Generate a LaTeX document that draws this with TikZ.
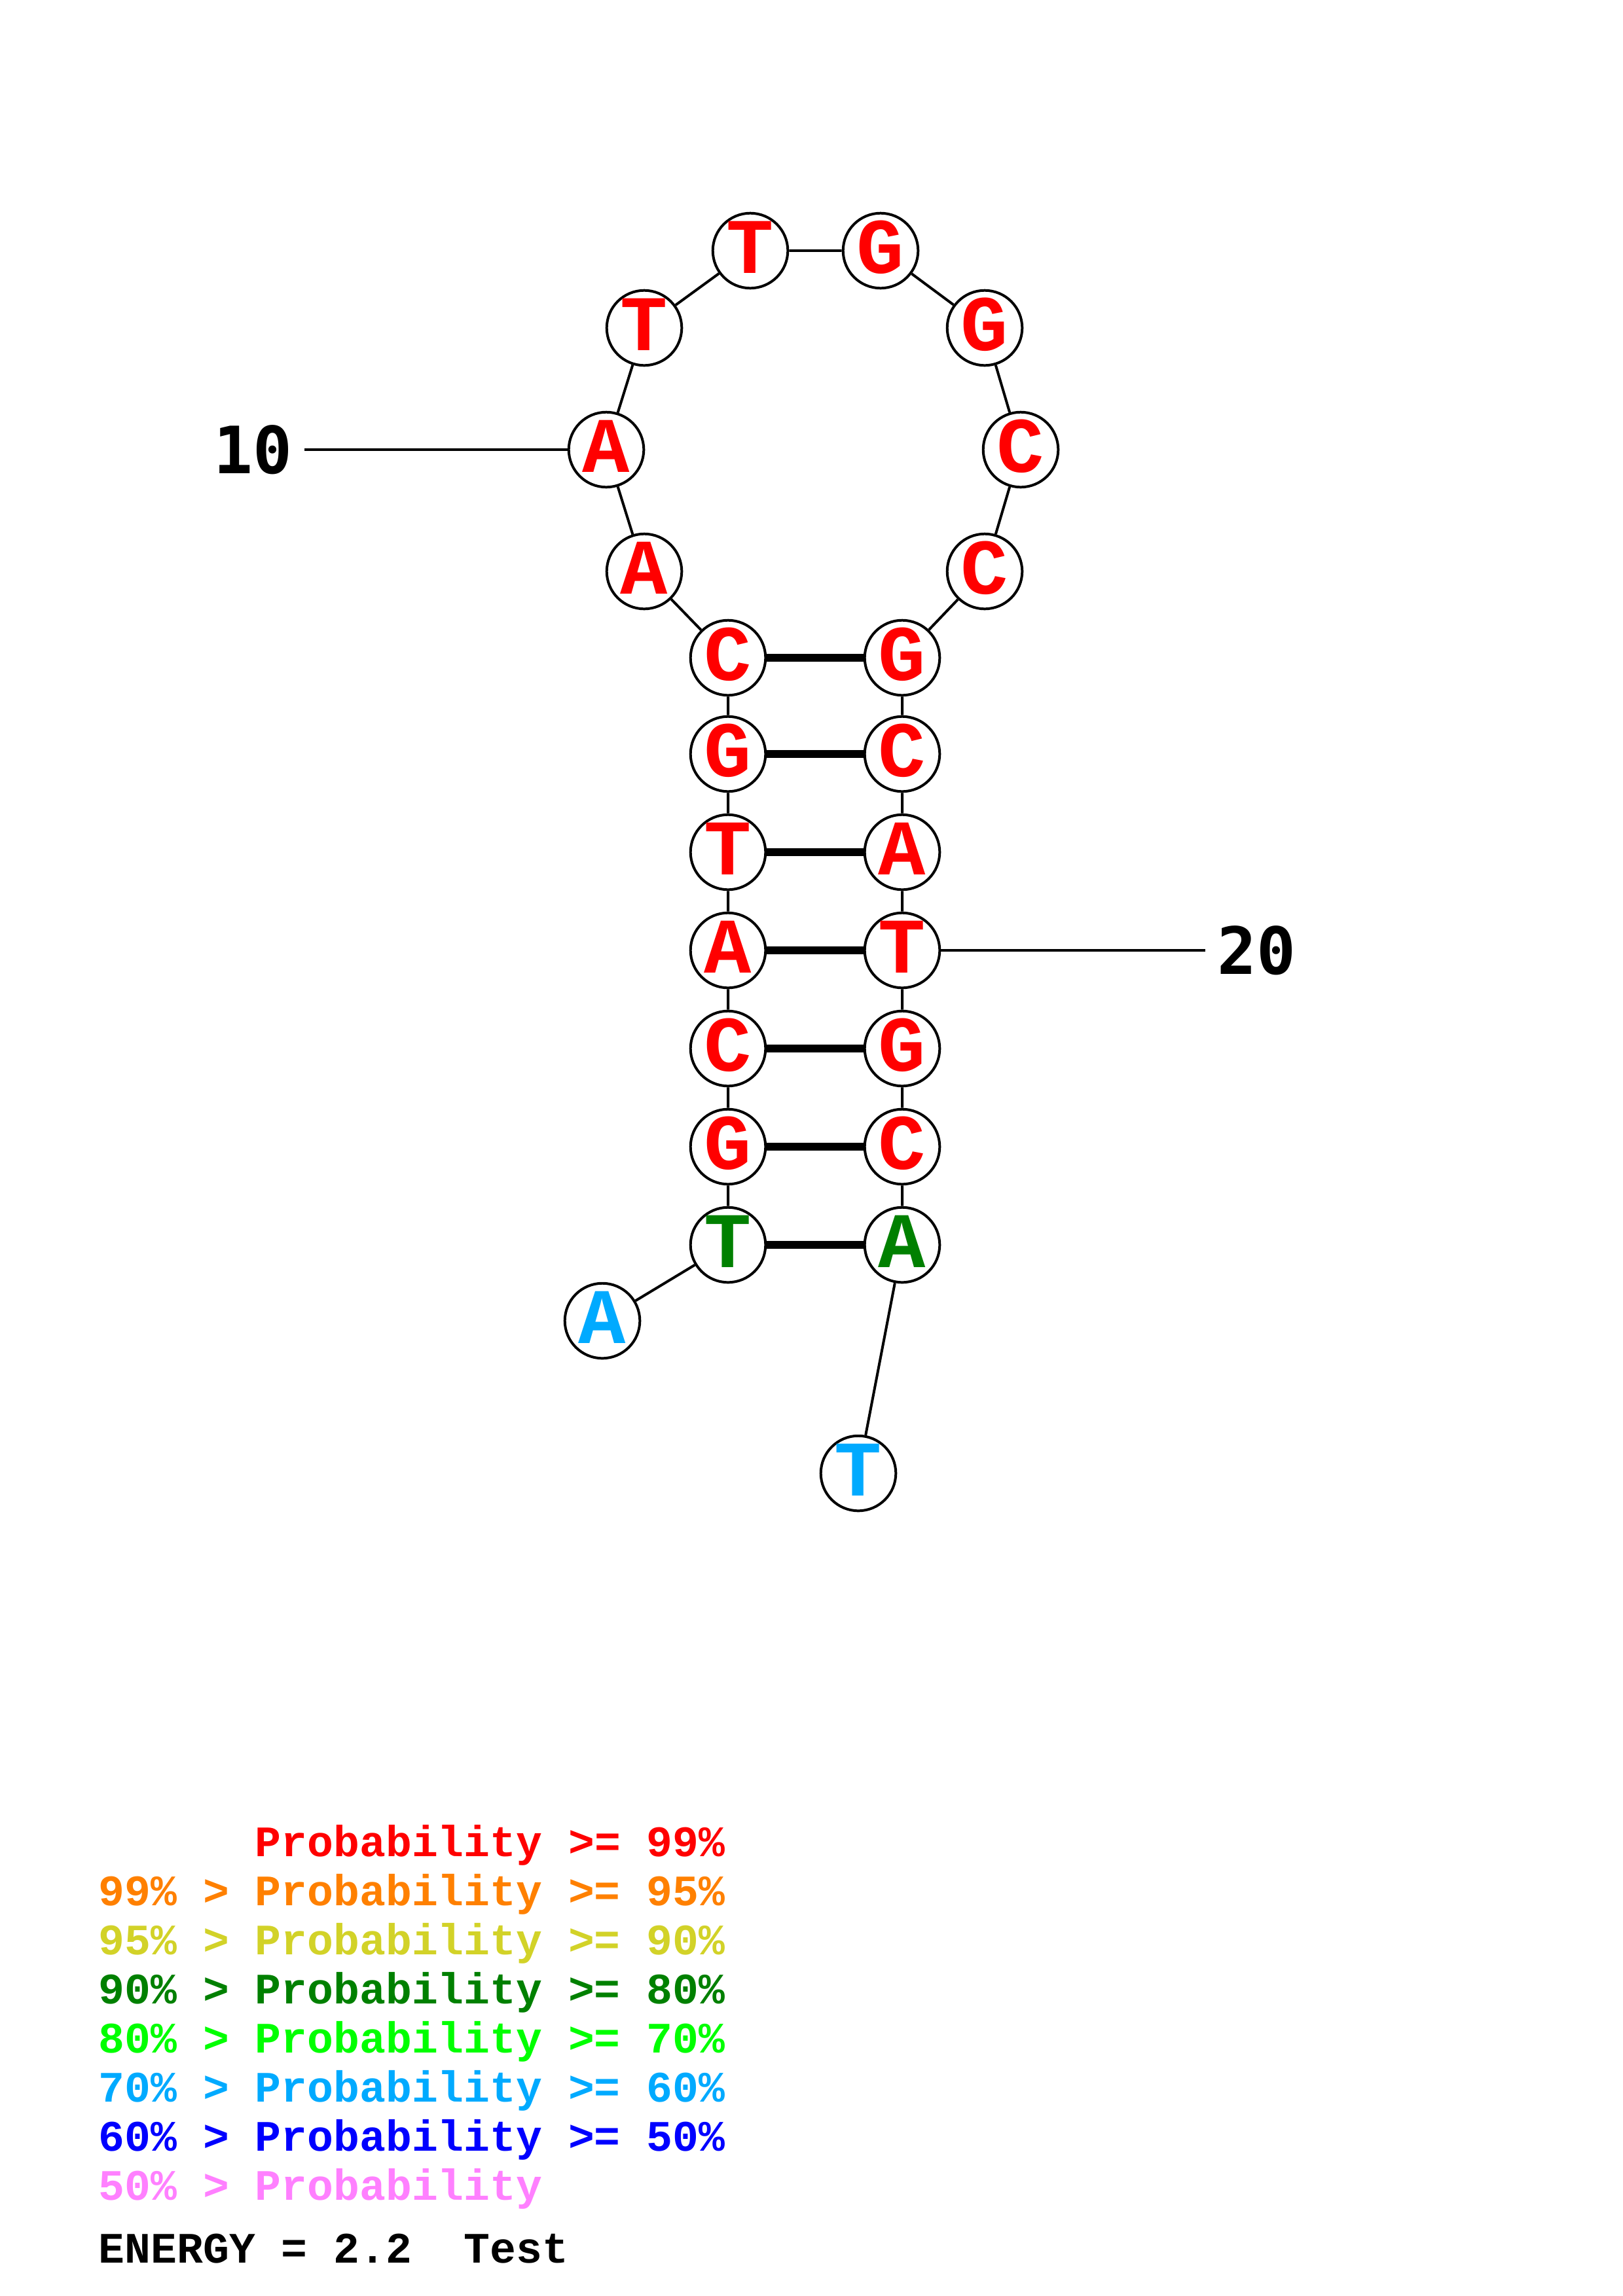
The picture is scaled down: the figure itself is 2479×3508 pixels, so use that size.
\documentclass[tikz,border=0pt]{standalone}
\usepackage{fontspec}
\setmainfont{Liberation Mono}
\newfontfamily\numfont{DejaVu Sans Mono}
\usepackage{tikz}

\begin{document}
\begin{tikzpicture}[x=0.0846667mm, y=-0.0846667mm,
    nuc/.style={circle, draw=black, line width=0.96pt, fill=white, minimum size=9.7mm, inner sep=0pt,
        font=\bfseries\fontsize{29}{29}\selectfont, text height=16.5pt, text depth=0pt},
    link/.style={line width=0.96pt},
    pair/.style={line width=3.1pt},
    numlabel/.style={font=\numfont\bfseries\fontsize{24}{24}\selectfont, inner sep=1.5mm},
    legend/.style={anchor=base west, inner sep=0pt, font=\bfseries\fontsize{16}{16}\selectfont}]
    % 定义颜色
    \definecolor{pred}{RGB}{255, 0, 0}
    \definecolor{porange}{RGB}{255, 128, 0}
    \definecolor{pyellow}{RGB}{210, 210, 40}
    \definecolor{pgreen}{RGB}{0, 128, 0}
    \definecolor{plime}{RGB}{0, 255, 0}
    \definecolor{psky}{RGB}{0, 170, 255}
    \definecolor{pblue}{RGB}{0, 0, 255}
    \definecolor{ppink}{RGB}{255, 128, 255}

    \useasboundingbox (0,0) rectangle (2479,3508);

    % 左链 (5')
    \node[nuc, text=psky] (n1) at (920, 2018) {A};
    \node[nuc, text=pgreen] (n2) at (1112, 1902) {T};
    \node[nuc, text=pred] (n3) at (1112, 1752) {G};
    \node[nuc, text=pred] (n4) at (1112, 1602) {C};
    \node[nuc, text=pred] (n5) at (1112, 1452) {A};
    \node[nuc, text=pred] (n6) at (1112, 1302) {T};
    \node[nuc, text=pred] (n7) at (1112, 1152) {G};
    \node[nuc, text=pred] (n8) at (1112, 1005) {C};

    % 发夹环
    \node[nuc, text=pred] (n9) at (984, 873) {A};
    \node[nuc, text=pred] (n10) at (926, 687) {A};
    \node[nuc, text=pred] (n11) at (984, 501) {T};
    \node[nuc, text=pred] (n12) at (1146, 383) {T};
    \node[nuc, text=pred] (n13) at (1345, 383) {G};
    \node[nuc, text=pred] (n14) at (1504, 501) {G};
    \node[nuc, text=pred] (n15) at (1559, 687) {C};
    \node[nuc, text=pred] (n16) at (1504, 873) {C};

    % 右链 (3')
    \node[nuc, text=pred] (n17) at (1378, 1005) {G};
    \node[nuc, text=pred] (n18) at (1378, 1152) {C};
    \node[nuc, text=pred] (n19) at (1378, 1302) {A};
    \node[nuc, text=pred] (n20) at (1378, 1452) {T};
    \node[nuc, text=pred] (n21) at (1378, 1602) {G};
    \node[nuc, text=pred] (n22) at (1378, 1752) {C};
    \node[nuc, text=pgreen] (n23) at (1378, 1902) {A};
    \node[nuc, text=psky] (n24) at (1311, 2251) {T};

    % 骨架连线
    \draw[link] (n1) -- (n2) -- (n3) -- (n4) -- (n5) -- (n6) -- (n7) -- (n8) -- (n9) -- (n10) -- (n11) -- (n12);
    \draw[link] (n12) -- (n13) -- (n14) -- (n15) -- (n16) -- (n17) -- (n18) -- (n19) -- (n20) -- (n21) -- (n22) -- (n23) -- (n24);

    % 碱基配对
    \draw[pair] (n2) -- (n23);
    \draw[pair] (n3) -- (n22);
    \draw[pair] (n4) -- (n21);
    \draw[pair] (n5) -- (n20);
    \draw[pair] (n6) -- (n19);
    \draw[pair] (n7) -- (n18);
    \draw[pair] (n8) -- (n17);

    % 编号
    \node[numlabel, anchor=east] (lab10) at (465, 687) {10};
    \draw[link] (lab10) -- (n10);
    \node[numlabel, anchor=west] (lab20) at (1841, 1452) {20};
    \draw[link] (n20) -- (lab20);

    % 图例
    \node[legend, text=pred] (leg1) at (150, 2836) {\hphantom{99\% > }Probability >= 99\%};
    \node[legend, text=porange] (leg2) at (150, 2911) {99\% > Probability >= 95\%};
    \node[legend, text=pyellow] (leg3) at (150, 2986) {95\% > Probability >= 90\%};
    \node[legend, text=pgreen] (leg4) at (150, 3061) {90\% > Probability >= 80\%};
    \node[legend, text=plime] (leg5) at (150, 3136) {80\% > Probability >= 70\%};
    \node[legend, text=psky] (leg6) at (150, 3211) {70\% > Probability >= 60\%};
    \node[legend, text=pblue] (leg7) at (150, 3286) {60\% > Probability >= 50\%};
    \node[legend, text=ppink] (leg8) at (150, 3361) {50\% > Probability};
    \node[legend, text=black] (energy) at (150, 3457) {ENERGY = 2.2\ \ Test};

\end{tikzpicture}
\end{document}
